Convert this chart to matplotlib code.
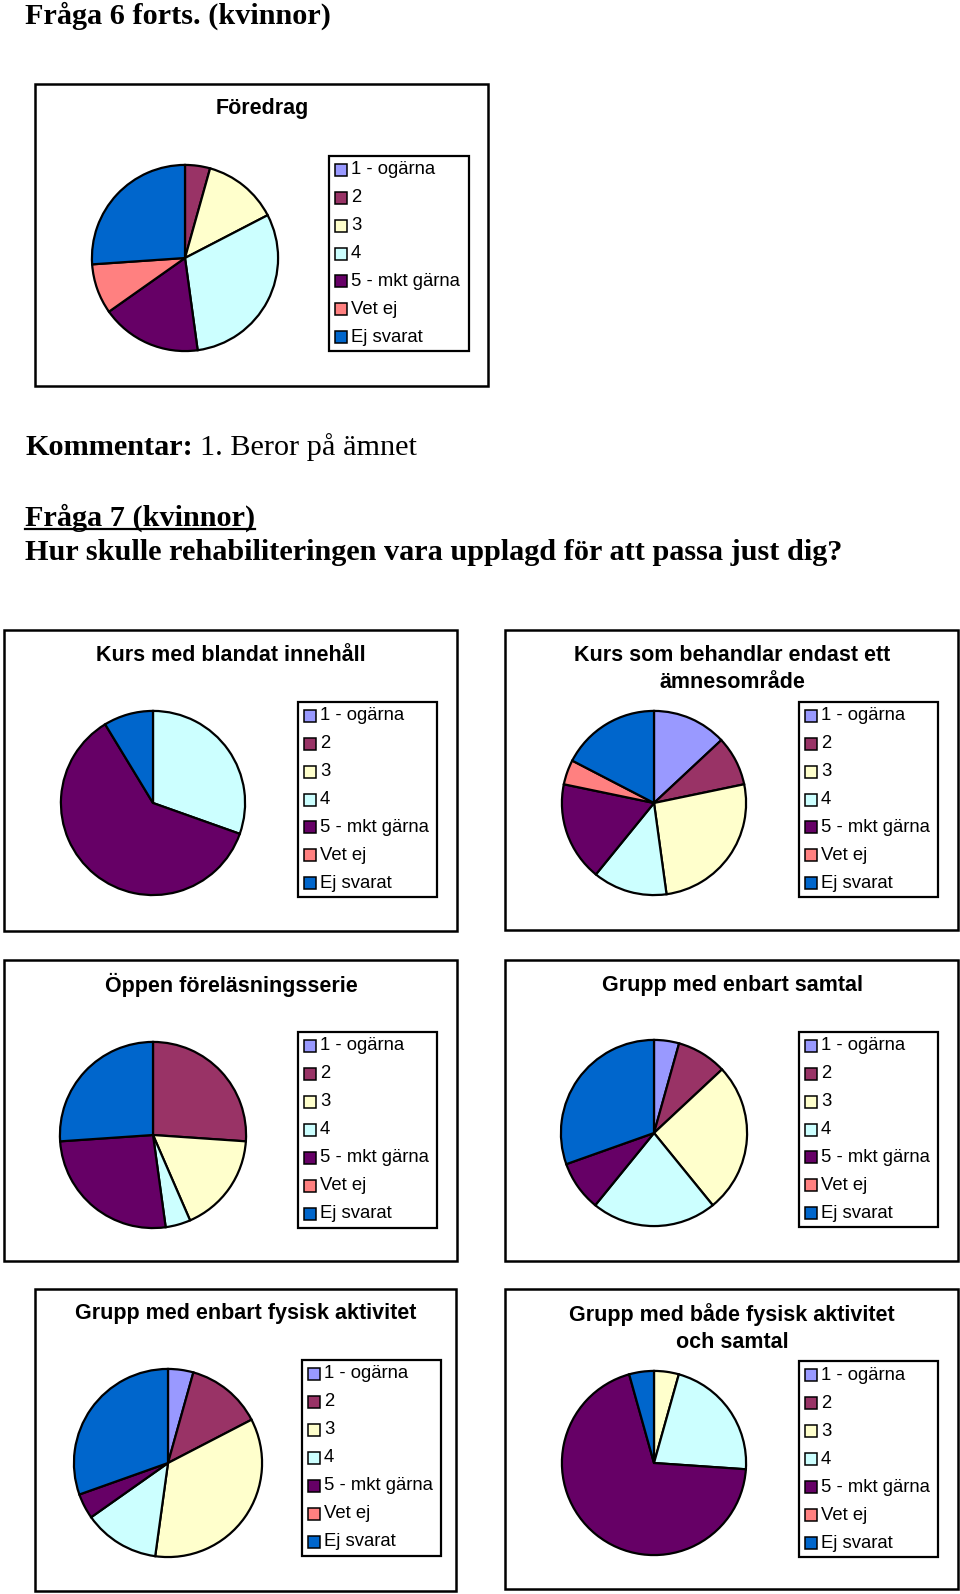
import matplotlib
matplotlib.use("Agg")
import matplotlib.pyplot as plt
from matplotlib.patches import Rectangle

W, H = 960, 1594

categories = ['1 - ogärna', '2', '3', '4', '5 - mkt gärna', 'Vet ej', 'Ej svarat']
colors = ['#9999FF', '#993366', '#FFFFCC', '#CCFFFF', '#660066', '#FF8080', '#0066CC']

# counts per answer, same order as categories
foredrag = [0, 1, 3, 7, 4, 2, 6]
blandat = [0, 0, 0, 7, 14, 0, 2]
ett_omrade = [3, 2, 6, 3, 4, 1, 4]
oppen = [0, 6, 4, 1, 6, 0, 6]
samtal = [1, 2, 6, 5, 2, 0, 7]
fysisk = [1, 3, 8, 3, 1, 0, 7]
bade = [0, 0, 1, 5, 16, 0, 1]

titles = ['Föredrag',
          'Kurs med blandat innehåll',
          'Kurs som behandlar endast ett\nämnesområde',
          'Öppen föreläsningsserie',
          'Grupp med enbart samtal',
          'Grupp med enbart fysisk aktivitet',
          'Grupp med både fysisk aktivitet\noch samtal']
series = [foredrag, blandat, ett_omrade, oppen, samtal, fysisk, bade]

# layout in pixels: chart box, title centre, pie centre/radius, legend box
layout = [
    dict(box=(35, 84, 488, 386), title=(262, 108), pie=(185, 258, 94), leg=(329, 156, 469, 351)),
    dict(box=(4, 630, 457, 931), title=(231, 655), pie=(153, 803, 93), leg=(298, 702, 437, 897)),
    dict(box=(505, 630, 958, 930), title=(732, 669), pie=(654, 803, 93), leg=(799, 702, 938, 897)),
    dict(box=(4, 960, 457, 1261), title=(231, 985), pie=(153, 1135, 94), leg=(298, 1032, 437, 1228)),
    dict(box=(505, 960, 958, 1261), title=(732, 985), pie=(654, 1133, 94), leg=(799, 1032, 938, 1227)),
    dict(box=(35, 1289, 456, 1591), title=(246, 1313), pie=(168, 1463, 95), leg=(302, 1360, 441, 1556)),
    dict(box=(505, 1289, 958, 1589), title=(732, 1328), pie=(654, 1463, 93), leg=(799, 1361, 938, 1557)),
]

fig = plt.figure(figsize=(W / 100, H / 100), dpi=100)
bg = fig.add_axes([0, 0, 1, 1])
bg.set_xlim(0, W)
bg.set_ylim(H, 0)
bg.axis('off')

serif = 'Liberation Serif'
sans = 'Liberation Sans'
fs_doc = 21.8

bg.text(25, 16, 'Fråga 6 forts. (kvinnor)', fontsize=fs_doc, fontweight='bold',
        family=serif, va='center', ha='left')
t = bg.text(25, 447, 'Kommentar:', fontsize=fs_doc, fontweight='bold',
            family=serif, va='center', ha='left')
fig.canvas.draw()
bb = t.get_window_extent()
bg.text(25 + bb.width + 7, 447, '1. Beror på ämnet', fontsize=fs_doc,
        family=serif, va='center', ha='left')
t2 = bg.text(25, 518, 'Fråga 7 (kvinnor)', fontsize=fs_doc, fontweight='bold',
             family=serif, va='center', ha='left')
fig.canvas.draw()
bb2 = t2.get_window_extent()
bg.plot([25, 25 + bb2.width], [529, 529], color='black', lw=1.6)
bg.text(25, 553, 'Hur skulle rehabiliteringen vara upplagd för att passa just dig?',
        fontsize=fs_doc, fontweight='bold', family=serif, va='center', ha='left')

for title, vals, lay in zip(titles, series, layout):
    x0, y0, x1, y1 = lay['box']
    bg.add_patch(Rectangle((x0, y0), x1 - x0, y1 - y0, fill=False,
                           edgecolor='black', lw=1.8))
    tx, ty = lay['title']
    bg.text(tx, ty, title, fontsize=15.5, fontweight='bold', family=sans,
            ha='center', va='center', linespacing=1.35)

    cx, cy, r = lay['pie']
    ax = fig.add_axes([(cx - r) / W, 1 - (cy + r) / H, 2 * r / W, 2 * r / H])
    keep = [i for i, v in enumerate(vals) if v > 0]
    ax.pie([vals[i] for i in keep], colors=[colors[i] for i in keep],
           startangle=90, counterclock=False,
           wedgeprops=dict(edgecolor='black', linewidth=1.6))
    ax.set_xlim(-1.01, 1.01)
    ax.set_ylim(-1.01, 1.01)
    ax.set_aspect('auto')
    ax.axis('off')

    lx0, ly0, lx1, ly1 = lay['leg']
    bg.add_patch(Rectangle((lx0, ly0), lx1 - lx0, ly1 - ly0, fill=False,
                           edgecolor='black', lw=1.6))
    step = (ly1 - ly0) / 7
    for k, (lab, col) in enumerate(zip(categories, colors)):
        yy = ly0 + step * (k + 0.5)
        bg.add_patch(Rectangle((lx0 + 6, yy - 6), 12, 12, facecolor=col,
                               edgecolor='black', lw=1.1))
        bg.text(lx0 + 22, yy, lab, fontsize=13.3, family=sans,
                ha='left', va='center')

fig.savefig('out.png', dpi=100)
